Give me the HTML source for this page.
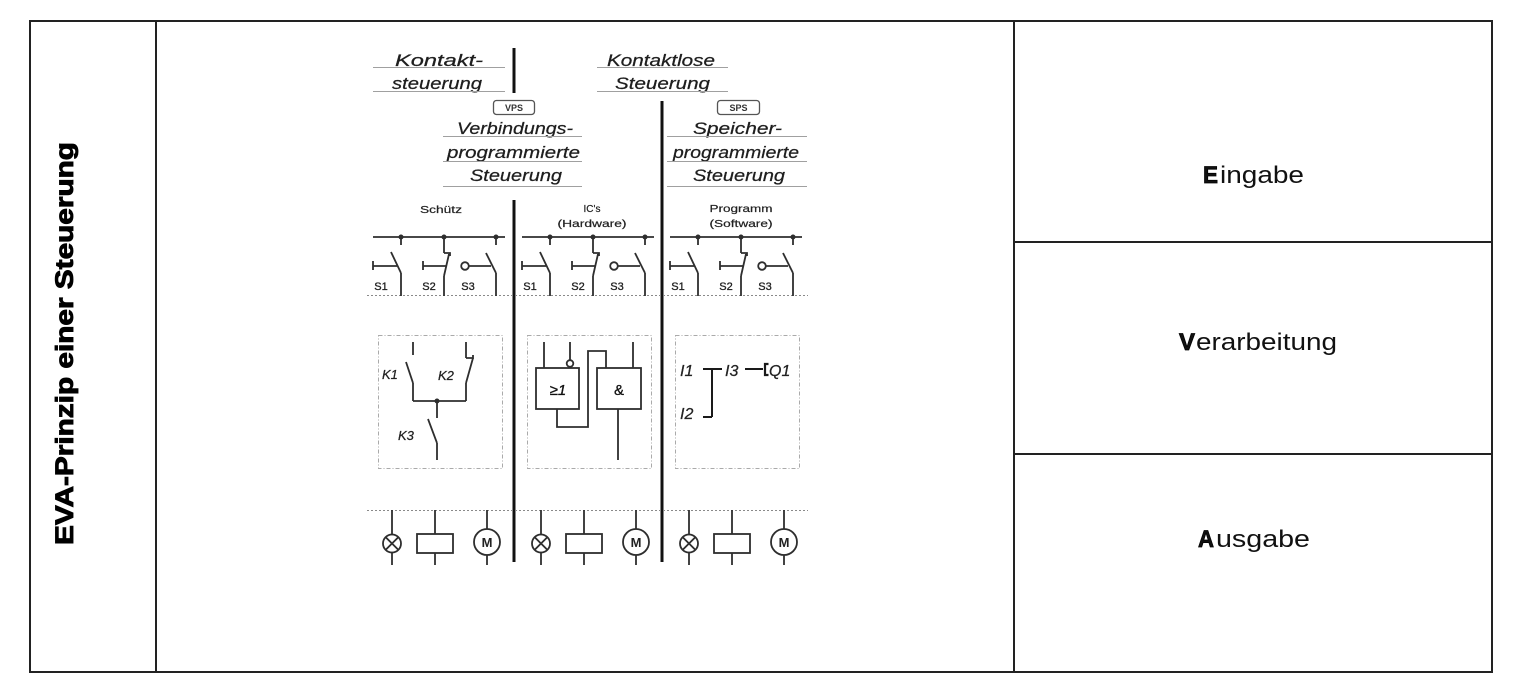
<!DOCTYPE html>
<html><head><meta charset="utf-8">
<style>
html,body{margin:0;padding:0;background:#fff;}
svg{display:block;}
</style></head>
<body>
<svg width="1521" height="687" viewBox="0 0 1521 687" xmlns="http://www.w3.org/2000/svg" font-family="Liberation Sans, Arial, sans-serif">
<rect x="0" y="0" width="1521" height="687" fill="#fff"/>

<!-- table borders -->
<g fill="#222">
<rect x="29" y="20" width="1464" height="2"/>
<rect x="29" y="671" width="1464" height="2"/>
<rect x="29" y="20" width="2" height="653"/>
<rect x="155" y="20" width="2" height="653"/>
<rect x="1013" y="20" width="2" height="653"/>
<rect x="1491" y="20" width="2" height="653"/>
<rect x="1013" y="241" width="480" height="2"/>
<rect x="1013" y="453" width="480" height="2"/>
</g>

<!-- vertical title -->
<text transform="translate(73,545) rotate(-90)" font-size="25" font-weight="bold" fill="#000" stroke="#000" stroke-width="0.9" textLength="403" lengthAdjust="spacingAndGlyphs">EVA-Prinzip einer Steuerung</text>

<!-- right column -->
<g fill="#111" font-size="24">
<text x="1203" y="183" font-weight="bold" stroke="#000" stroke-width="0.8" textLength="15" lengthAdjust="spacingAndGlyphs">E</text>
<text x="1220" y="183" textLength="84" lengthAdjust="spacingAndGlyphs">ingabe</text>
<text x="1179" y="350" font-weight="bold" stroke="#000" stroke-width="0.8" textLength="16" lengthAdjust="spacingAndGlyphs">V</text>
<text x="1196" y="350" textLength="141" lengthAdjust="spacingAndGlyphs">erarbeitung</text>
<text x="1198" y="547" font-weight="bold" stroke="#000" stroke-width="0.8" textLength="16" lengthAdjust="spacingAndGlyphs">A</text>
<text x="1216" y="547" textLength="94" lengthAdjust="spacingAndGlyphs">usgabe</text>
</g>

<!-- header texts -->
<g fill="#1e1e1e" stroke="#1e1e1e" stroke-width="0.25" font-size="17" font-style="italic">
<text x="395" y="66" textLength="88" lengthAdjust="spacingAndGlyphs">Kontakt-</text>
<text x="392" y="89" textLength="90" lengthAdjust="spacingAndGlyphs">steuerung</text>
<text x="607" y="66" textLength="108" lengthAdjust="spacingAndGlyphs">Kontaktlose</text>
<text x="615" y="89" textLength="95" lengthAdjust="spacingAndGlyphs">Steuerung</text>
<text x="457" y="134" textLength="116" lengthAdjust="spacingAndGlyphs">Verbindungs-</text>
<text x="447" y="158" textLength="133" lengthAdjust="spacingAndGlyphs">programmierte</text>
<text x="470" y="181" textLength="92" lengthAdjust="spacingAndGlyphs">Steuerung</text>
<text x="693" y="134" textLength="89" lengthAdjust="spacingAndGlyphs">Speicher-</text>
<text x="673" y="158" textLength="126" lengthAdjust="spacingAndGlyphs">programmierte</text>
<text x="693" y="181" textLength="92" lengthAdjust="spacingAndGlyphs">Steuerung</text>
</g>
<g stroke="#a0a0a0" stroke-width="1">
<line x1="373" y1="67.5" x2="505" y2="67.5"/>
<line x1="597" y1="67.5" x2="728" y2="67.5"/>
<line x1="373" y1="91.5" x2="505" y2="91.5"/>
<line x1="597" y1="91.5" x2="728" y2="91.5"/>
<line x1="443" y1="136.5" x2="582" y2="136.5"/>
<line x1="667" y1="136.5" x2="807" y2="136.5"/>
<line x1="443" y1="161.5" x2="582" y2="161.5"/>
<line x1="667" y1="161.5" x2="807" y2="161.5"/>
<line x1="443" y1="186.5" x2="582" y2="186.5"/>
<line x1="667" y1="186.5" x2="807" y2="186.5"/>
</g>

<!-- VPS / SPS boxes -->
<g fill="none" stroke="#555" stroke-width="1.3">
<rect x="493.5" y="100.5" width="41" height="14" rx="3"/>
<rect x="717.5" y="100.5" width="42" height="14" rx="3"/>
</g>
<g fill="#333" font-size="9" font-weight="bold" text-anchor="middle">
<text x="514" y="111">VPS</text>
<text x="738.5" y="111">SPS</text>
</g>

<!-- thick separators -->
<g stroke="#111" stroke-width="3">
<line x1="514" y1="48" x2="514" y2="93"/>
<line x1="514" y1="200" x2="514" y2="562"/>
<line x1="662" y1="101" x2="662" y2="562"/>
</g>

<!-- section labels -->
<g fill="#222" font-size="10" text-anchor="middle" stroke="#222" stroke-width="0.2">
<text x="441" y="213" textLength="42" lengthAdjust="spacingAndGlyphs">Schütz</text>
<text x="592" y="212">IC's</text>
<text x="592" y="227" textLength="69" lengthAdjust="spacingAndGlyphs">(Hardware)</text>
<text x="741" y="212" textLength="63" lengthAdjust="spacingAndGlyphs">Programm</text>
<text x="741" y="227" textLength="63" lengthAdjust="spacingAndGlyphs">(Software)</text>
</g>

<!-- dotted separators -->
<g stroke="#8a8a8a" stroke-width="1" stroke-dasharray="2,2">
<line x1="367" y1="295.5" x2="808" y2="295.5"/>
<line x1="367" y1="510.5" x2="808" y2="510.5"/>
</g>

<!-- input segments -->
<g id="seg" stroke="#2e2e2e" stroke-width="1.8" fill="none">
<line x1="373" y1="237" x2="505" y2="237"/>
<!-- S1 -->
<line x1="401" y1="237" x2="401" y2="245"/>
<line x1="401" y1="273" x2="391" y2="252"/>
<line x1="401" y1="273" x2="401" y2="296"/>
<line x1="373" y1="266" x2="397" y2="266"/>
<line x1="373" y1="261" x2="373" y2="270"/>
<!-- S2 -->
<line x1="444" y1="237" x2="444" y2="253"/>
<polyline points="444,253 450,253 450,256"/>
<line x1="444" y1="276" x2="449" y2="254"/>
<line x1="444" y1="276" x2="444" y2="296"/>
<line x1="423" y1="266" x2="447" y2="266"/>
<line x1="423" y1="261" x2="423" y2="270"/>
<!-- S3 -->
<line x1="496" y1="237" x2="496" y2="245"/>
<line x1="496" y1="273" x2="486" y2="253"/>
<line x1="496" y1="273" x2="496" y2="296"/>
<circle cx="465" cy="266" r="3.8"/>
<line x1="469" y1="266" x2="491" y2="266"/>
<g fill="#2e2e2e" stroke="none">
<circle cx="401" cy="237" r="2.5"/>
<circle cx="444" cy="237" r="2.5"/>
<circle cx="496" cy="237" r="2.5"/>
</g>
<g fill="#222" stroke="#222" stroke-width="0.3" font-size="11" text-anchor="middle">
<text x="381" y="290">S1</text>
<text x="429" y="290">S2</text>
<text x="468" y="290">S3</text>
</g>
<!-- output -->
<line x1="392" y1="510" x2="392" y2="534"/>
<line x1="392" y1="553" x2="392" y2="565"/>
<circle cx="392" cy="543.5" r="9"/>
<line x1="385.6" y1="537.1" x2="398.4" y2="549.9"/>
<line x1="398.4" y1="537.1" x2="385.6" y2="549.9"/>
<line x1="435" y1="510" x2="435" y2="534"/>
<line x1="435" y1="553" x2="435" y2="565"/>
<rect x="417" y="534" width="36" height="19"/>
<line x1="487" y1="510" x2="487" y2="529"/>
<line x1="487" y1="555" x2="487" y2="565"/>
<circle cx="487" cy="542" r="13"/>
<text x="487" y="547" fill="#222" stroke="none" font-size="13" font-weight="bold" text-anchor="middle">M</text>
<!-- dashed box -->
<rect x="378.5" y="335.5" width="124" height="133" stroke="#aaa" stroke-width="1" stroke-dasharray="4,2,1,2"/>
</g>
<use href="#seg" x="149" y="0"/>
<use href="#seg" x="297" y="0"/>

<!-- box 1: contactor logic -->
<g stroke="#2e2e2e" stroke-width="1.8" fill="none">
<line x1="413" y1="342" x2="413" y2="355"/>
<line x1="406" y1="362" x2="413" y2="383"/>
<line x1="413" y1="383" x2="413" y2="401"/>
<line x1="466" y1="342" x2="466" y2="358"/>
<polyline points="466,358 473,358 473,355"/>
<line x1="473" y1="358" x2="466" y2="383"/>
<line x1="466" y1="383" x2="466" y2="401"/>
<line x1="413" y1="401" x2="466" y2="401"/>
<line x1="437" y1="401" x2="437" y2="418"/>
<line x1="428" y1="419" x2="437" y2="443"/>
<line x1="437" y1="443" x2="437" y2="460"/>
</g>
<circle cx="437" cy="401" r="2.5" fill="#2e2e2e"/>
<g fill="#222" stroke="#222" stroke-width="0.25" font-size="13" font-style="italic">
<text x="382" y="379">K1</text>
<text x="438" y="380">K2</text>
<text x="398" y="440">K3</text>
</g>

<!-- box 2: gates -->
<g stroke="#2e2e2e" stroke-width="1.8" fill="none">
<rect x="536" y="368" width="43" height="41"/>
<rect x="597" y="368" width="44" height="41"/>
<line x1="544" y1="342" x2="544" y2="368"/>
<line x1="570" y1="342" x2="570" y2="360"/>
<circle cx="570" cy="363.5" r="3.3"/>
<polyline points="557,409 557,427 588,427 588,351 606,351 606,368"/>
<line x1="633" y1="342" x2="633" y2="368"/>
<line x1="618" y1="409" x2="618" y2="460"/>
</g>
<g fill="#111" stroke="#111" stroke-width="0.3" font-size="15" text-anchor="middle">
<text x="558" y="395" font-style="italic">≥1</text>
<text x="619" y="395">&amp;</text>
</g>

<!-- box 3: ladder/FUP -->
<g stroke="#1a1a1a" stroke-width="2" fill="none">
<line x1="703" y1="369" x2="722" y2="369"/>
<line x1="712" y1="369" x2="712" y2="417"/>
<line x1="703" y1="417" x2="712" y2="417"/>
<line x1="745" y1="369" x2="763" y2="369"/>
<polyline points="768.5,364 765,364 765,375 768.5,375" stroke-width="2.2"/>
</g>
<g fill="#222" stroke="#222" stroke-width="0.25" font-size="16" font-style="italic">
<text x="680" y="376">I1</text>
<text x="680" y="419">I2</text>
<text x="725" y="376">I3</text>
<text x="769" y="376">Q1</text>
</g>
</svg>
</body></html>
